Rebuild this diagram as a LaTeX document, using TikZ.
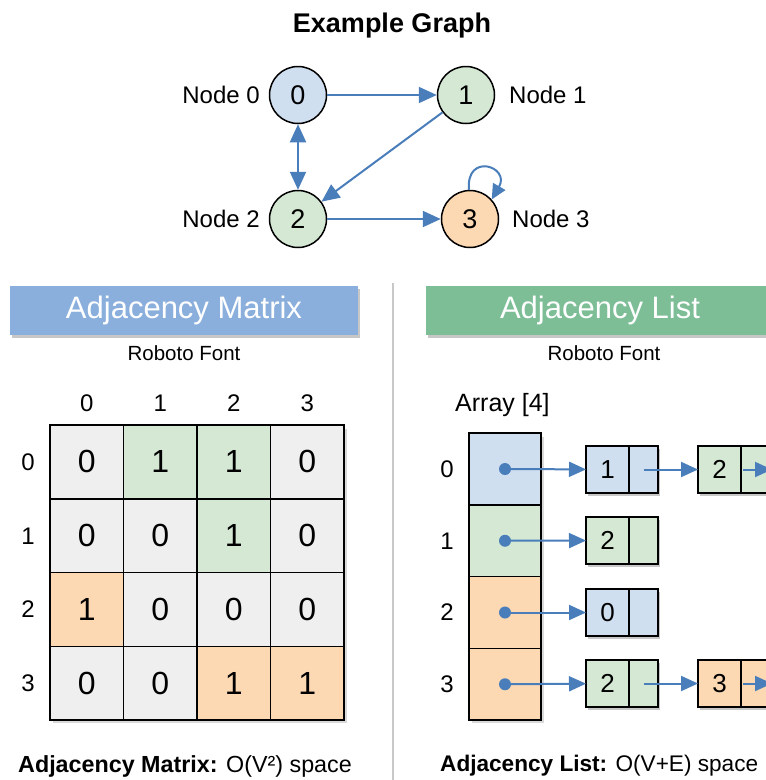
\documentclass[tikz,border=0pt]{standalone}
\usepackage{fontspec}
\setmainfont{Liberation Sans}
\usetikzlibrary{arrows.meta,shadows}

\definecolor{fillblue}{HTML}{CFDFF0}
\definecolor{fillgreen}{HTML}{D5E8D4}
\definecolor{fillorange}{HTML}{FCD8B3}
\definecolor{fillgray}{HTML}{EFEFEF}
\definecolor{arrowblue}{HTML}{4A7EBB}
\definecolor{barblue}{HTML}{8AAFDC}
\definecolor{bargreen}{HTML}{7DBE97}
\definecolor{divider}{HTML}{C8C8C8}

\tikzset{
  fs/.style={font=\fontsize{#1}{#1}\selectfont},
  tip/.style={-{Triangle[length=18pt,width=16pt]}},
  softshadow/.style={drop shadow={shadow xshift=2pt, shadow yshift=-3pt, opacity=0.22, fill=black}},
  graphnode/.style={circle, draw=black, line width=1.5pt, minimum size=57pt, inner sep=0pt, fs=27},
  nodelabel/.style={inner sep=0pt, fs=24},
  edge/.style={draw=arrowblue, line width=2pt, tip},
  listedge/.style={draw=arrowblue, line width=2pt, -{Triangle[length=17pt,width=15pt]}},
  headerbar/.style={rectangle, inner sep=0pt, minimum width=348pt, minimum height=49pt,
    text=white, fs=31, softshadow},
  subtitle/.style={inner sep=0pt, fs=20.5},
  matcell/.style={rectangle, draw=black, line width=1.5pt, outer sep=0pt,
    minimum width=73.5pt, minimum height=73.75pt, inner sep=0pt, fs=32},
  axislabel/.style={inner sep=0pt, fs=24},
  arrcell/.style={rectangle, draw=black, line width=1.5pt, outer sep=0pt,
    minimum width=72pt, minimum height=71.75pt, inner sep=0pt},
  dot/.style={circle, fill=arrowblue, minimum size=12pt, inner sep=0pt},
  listval/.style={rectangle, draw=black, line width=1.5pt, outer sep=0pt,
    minimum width=43pt, minimum height=47pt, inner sep=0pt, fs=26, softshadow},
  listptr/.style={rectangle, draw=black, line width=1.5pt, outer sep=0pt,
    minimum width=29pt, minimum height=47pt, inner sep=0pt, softshadow},
  summary/.style={inner sep=0pt, fs=23.3, anchor=west},
}

\begin{document}
\begin{tikzpicture}[x=1pt, y=-1pt]
\path[use as bounding box, clip] (0,0) rectangle (766,780);
\fill[white] (0,0) rectangle (766,780);

% ---------- graph ----------
\node[inner sep=0pt, font=\fontsize{27}{27}\selectfont\bfseries] (title) at (392,26) {Example Graph};

\node[graphnode, fill=fillblue]   (n0) at (298,95)  {0};
\node[graphnode, fill=fillgreen]  (n1) at (466,95)  {1};
\node[graphnode, fill=fillgreen]  (n2) at (298,219) {2};
\node[graphnode, fill=fillorange] (n3) at (470,219) {3};

\node[nodelabel, anchor=east] (l0) at (260,95)  {Node 0};
\node[nodelabel, anchor=west] (l1) at (509,95)  {Node 1};
\node[nodelabel, anchor=east] (l2) at (260,219) {Node 2};
\node[nodelabel, anchor=west] (l3) at (512,219) {Node 3};

\draw[edge] (n0) -- (n1);
\draw[edge] (n1) -- (n2);
\draw[edge, {Triangle[length=18pt,width=16pt]}-{Triangle[length=18pt,width=16pt]}] (n0) -- (n2);
\draw[edge] (n2) -- (n3);
\draw[edge, -{Triangle[length=15pt,width=14pt]}] (n3.92) to[out=95, in=60, distance=38pt] (n3.42);

% ---------- divider ----------
\draw[divider, line width=1.5pt] (393,283) -- (393,780);

% ---------- adjacency matrix ----------
\node[headerbar, fill=barblue] (hm) at (184,310.5) {Adjacency Matrix};
\node[subtitle] (sm) at (184,353) {Roboto Font};

\foreach \c in {0,1,2,3}
  \node[axislabel] (ch\c) at ({86.75+73.5*\c},403) {\c};
\foreach \r in {0,1,2,3}
  \node[axislabel] (rh\r) at (28,{462+73.75*\r}) {\r};

\fill[black, opacity=0.15] (53,429) rectangle (347,723);
\foreach \r/\c/\v/\f in {
  0/0/0/fillgray, 0/1/1/fillgreen, 0/2/1/fillgreen, 0/3/0/fillgray,
  1/0/0/fillgray, 1/1/0/fillgray,  1/2/1/fillgreen, 1/3/0/fillgray,
  2/0/1/fillorange, 2/1/0/fillgray, 2/2/0/fillgray, 2/3/0/fillgray,
  3/0/0/fillgray, 3/1/0/fillgray, 3/2/1/fillorange, 3/3/1/fillorange}
  \node[matcell, fill=\f] (m\r\c) at ({86.75+73.5*\c},{461.9+73.75*\r}) {\v};

\node[summary] (summ) at (18,766) {\textbf{Adjacency Matrix:} O(V²) space};

% ---------- adjacency list ----------
\node[headerbar, fill=bargreen] (hl) at (600,310.5) {Adjacency List};
\node[subtitle] (sl) at (604,353) {Roboto Font};
\node[axislabel, anchor=west, fs=25] (arr) at (455,405) {Array [4]};

\fill[black, opacity=0.15] (472,437) rectangle (544,723);
\foreach \r/\f in {0/fillblue, 1/fillgreen, 2/fillorange, 3/fillorange} {
  \node[arrcell, fill=\f] (a\r) at (505,{469+71.75*\r}) {};
  \node[axislabel] (ar\r) at (447,{469+71.75*\r}) {\r};
  \node[dot] (d\r) at (a\r.center) {};
}

% first list cells
\node[listval, fill=fillblue]  (v0a) at (607.5,469.5) {1};
\node[listval, fill=fillgreen] (v1a) at (607.5,540.5) {2};
\node[listval, fill=fillblue]  (v2a) at (607.5,612.5) {0};
\node[listval, fill=fillgreen] (v3a) at (607.5,683.5) {2};
\node[listptr, fill=fillblue,  anchor=west] (p0a) at (v0a.east) {};
\node[listptr, fill=fillgreen, anchor=west] (p1a) at (v1a.east) {};
\node[listptr, fill=fillblue,  anchor=west] (p2a) at (v2a.east) {};
\node[listptr, fill=fillgreen, anchor=west] (p3a) at (v3a.east) {};

% second list cells
\node[listval, fill=fillgreen]  (v0b) at (719.5,469.5) {2};
\node[listval, fill=fillorange] (v3b) at (719.5,683.5) {3};
\node[listptr, fill=fillgreen,  anchor=west] (p0b) at (v0b.east) {};
\node[listptr, fill=fillorange, anchor=west] (p3b) at (v3b.east) {};

% pointers from the array into the lists
\draw[listedge] (d0.center) -- (v0a);
\draw[listedge] (d1.center) -- (v1a);
\draw[listedge] (d2.center) -- (v2a);
\draw[listedge] (d3.center) -- (v3a);
\draw[listedge] (p0a.center) -- (v0b);
\draw[listedge] (p3a.center) -- (v3b);
\coordinate (e0) at (772,469.5);
\coordinate (e3) at (772,683.5);
\draw[listedge] ([xshift=2pt]p0b.west) -- (e0);
\draw[listedge] ([xshift=2pt]p3b.west) -- (e3);

\node[summary, fs=22.6] (suml) at (440,766) {\textbf{Adjacency List:} O(V+E) space};
\end{tikzpicture}
\end{document}
